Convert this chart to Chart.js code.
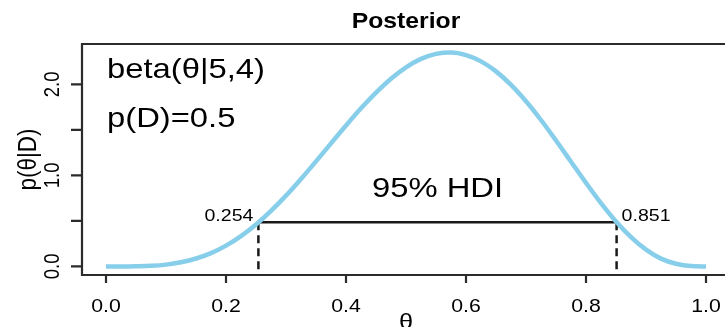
<!DOCTYPE html>
<html>
<head>
<meta charset="utf-8">
<script src="https://cdn.jsdelivr.net/npm/chart.js@4.4.1/dist/chart.umd.min.js"></script>
<style>
  html, body { margin: 0; padding: 0; background: #fff; overflow: hidden; }
  #wrap { width: 740px; height: 327px; }
</style>
</head>
<body>
<div id="wrap"><canvas id="posterior" width="740" height="327"></canvas></div>
<script>
// densidad posterior beta(5,4) leida cada 0.025
const thetaGrid = [0, 0.025, 0.05, 0.075, 0.1, 0.125, 0.15, 0.175, 0.2, 0.225,
    0.25, 0.275, 0.3, 0.325, 0.35, 0.375, 0.4, 0.425, 0.45, 0.475,
    0.5, 0.525, 0.55, 0.575, 0.6, 0.625, 0.65, 0.675, 0.7, 0.725,
    0.75, 0.775, 0.8, 0.825, 0.85, 0.875, 0.9, 0.925, 0.95, 0.975, 1];
const density = [0, 0.000, 0.002, 0.007, 0.020, 0.046, 0.087, 0.147, 0.229, 0.334,
    0.461, 0.610, 0.778, 0.961, 1.154, 1.352, 1.548, 1.737, 1.910, 2.063,
    2.188, 2.280, 2.335, 2.350, 2.322, 2.253, 2.143, 1.995, 1.815, 1.609,
    1.384, 1.151, 0.918, 0.695, 0.493, 0.321, 0.184, 0.086, 0.029, 0.004, 0];

const hdiBounds = [0.254, 0.851];
const hdiHeight = 0.485;
const betaParams = [5, 4];
const pD = '0.5';

const xTicks = [0, 0.2, 0.4, 0.6, 0.8, 1.0];
const yTicks = [0, 0.5, 1, 1.5, 2];
const yTickLabels = ['0.0', '', '1.0', '', '2.0'];
const xRange = [-0.04, 1.04];
const yRange = [-0.094, 2.444];

const FUENTE = '"Liberation Sans", Arial, Helvetica, sans-serif';
const ESTIRA = 1.15;   // el texto sale algo ancho, como en la figura de R

function texto(ctx, str, x, y, size, opts = {}) {
    ctx.save();
    ctx.translate(x, y);
    ctx.scale(ESTIRA, 1);
    if (opts.rotar) ctx.rotate(-Math.PI / 2);
    ctx.font = (opts.bold ? 'bold ' : '') + size + 'px ' + FUENTE;
    ctx.textAlign = opts.align || 'left';
    ctx.textBaseline = 'alphabetic';
    ctx.fillStyle = '#000';
    ctx.fillText(str, 0, 0);
    ctx.restore();
}

// ejes estilo R: caja, marcas hacia afuera y textos
const ejesR = {
    id: 'ejesR',
    afterDraw(chart) {
        const { ctx, chartArea: a, scales: { x, y } } = chart;

        ctx.save();
        ctx.strokeStyle = '#2b2b2b';
        ctx.lineWidth = 2.2;
        ctx.beginPath();
        ctx.moveTo(a.right + 5, a.top);
        ctx.lineTo(a.left, a.top);
        ctx.lineTo(a.left, a.bottom);
        ctx.lineTo(a.right + 5, a.bottom);
        xTicks.forEach(v => {
            const px = x.getPixelForValue(v);
            ctx.moveTo(px, a.bottom);
            ctx.lineTo(px, a.bottom + 8);
        });
        yTicks.forEach(v => {
            const py = y.getPixelForValue(v);
            ctx.moveTo(a.left, py);
            ctx.lineTo(a.left - 11, py);
        });
        ctx.stroke();
        ctx.restore();

        xTicks.forEach(v => {
            texto(ctx, v.toFixed(1), x.getPixelForValue(v), a.bottom + 37, 18.5, { align: 'center' });
        });
        yTicks.forEach((v, i) => {
            if (!yTickLabels[i]) return;
            texto(ctx, yTickLabels[i], a.left - 23, y.getPixelForValue(v), 18.5, { align: 'center', rotar: true });
        });

        const cx = (a.left + a.right) / 2;
        texto(ctx, 'Posterior', cx, 28, 21.5, { align: 'center', bold: true });
        texto(ctx, 'θ', cx, 329, 22, { align: 'center' });
        texto(ctx, 'p(θ|D)', 36, (a.top + a.bottom) / 2, 22.5, { align: 'center', rotar: true });

        texto(ctx, `beta(θ|${betaParams[0]},${betaParams[1]})`, 107, 78, 28.5);
        texto(ctx, `p(D)=${pD}`, 107, 127, 28.5);

        // etiquetas del intervalo HDI
        const yl = y.getPixelForValue(hdiHeight);
        const x0 = x.getPixelForValue(hdiBounds[0]);
        const x1 = x.getPixelForValue(hdiBounds[1]);
        texto(ctx, hdiBounds[0].toFixed(3), x0 - 5, yl - 1.5, 17, { align: 'right' });
        texto(ctx, hdiBounds[1].toFixed(3), x1 + 5, yl - 1.5, 17);
        texto(ctx, '95% HDI', (x0 + x1) / 2, yl - 25, 28.5, { align: 'center' });
    }
};

const curva = thetaGrid.map((t, i) => ({ x: t, y: density[i] }));
const hdiLinea = hdiBounds.map(t => ({ x: t, y: hdiHeight }));
const guia = t => [{ x: t, y: hdiHeight }, { x: t, y: yRange[0] }];

const lineaNegra = { borderColor: '#1a1a1a', borderWidth: 2.5, pointRadius: 0, fill: false };

new Chart(document.getElementById('posterior'), {
    type: 'line',
    data: {
        datasets: [
            {
                label: 'posterior',
                data: curva,
                borderColor: '#87CEEB',
                borderWidth: 4.5,
                pointRadius: 0,
                cubicInterpolationMode: 'monotone',
                fill: false
            },
            { label: 'hdi', data: hdiLinea, ...lineaNegra },
            { label: 'lim1', data: guia(hdiBounds[0]), ...lineaNegra, borderDash: [8, 5] },
            { label: 'lim2', data: guia(hdiBounds[1]), ...lineaNegra, borderDash: [8, 5] }
        ]
    },
    options: {
        responsive: false,
        animation: false,
        layout: { padding: { left: 82, top: 44, right: 10, bottom: 52 } },
        plugins: {
            legend: { display: false },
            title: { display: false },
            tooltip: { enabled: false }
        },
        scales: {
            x: { type: 'linear', min: xRange[0], max: xRange[1], display: false },
            y: { type: 'linear', min: yRange[0], max: yRange[1], display: false }
        }
    },
    plugins: [ejesR]
});
</script>
</body>
</html>
